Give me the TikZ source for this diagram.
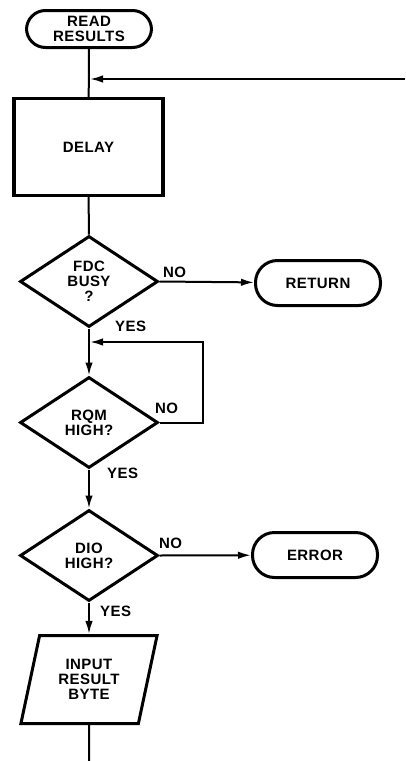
\documentclass[tikz,border=0pt]{standalone}
\usepackage{fontspec}
\setmainfont{Liberation Sans}[LetterSpace=3]
\usetikzlibrary{shapes.geometric}
\usetikzlibrary{arrows.meta}

\tikzset{
 every node/.style={font=\bfseries\fontsize{15}{15}\selectfont, align=center},
 term/.style={draw, line width=3pt, rounded corners=19pt, minimum width=125pt, minimum height=37pt, inner sep=0},
 proc/.style={draw, line width=3.2pt, minimum width=149pt, minimum height=97pt, inner sep=0},
 decide/.style={draw, diamond, line width=3pt, minimum width=138pt, minimum height=91pt, inner sep=0, aspect=1.5},
 inout/.style={draw, trapezium, trapezium left angle=74, trapezium right angle=106, trapezium stretches=true, line width=3pt, minimum width=137pt, minimum height=88pt, inner sep=0},
 lbl/.style={inner sep=0, anchor=base west},
 flow/.style={line width=2pt},
}

\begin{document}
\begin{tikzpicture} [x=1pt, y=-1pt, >={Latex[length=13pt,width=7.5pt]}]
\useasboundingbox (0,0) rectangle (406,761);
% main column
\node[term] (read) at (89,29) {READ\\RESULTS};
\node[proc] (delay) at (88.5,147) {DELAY};
\node[decide] (fdc) at (89,281.5) {FDC\\BUSY\\?};
\node[decide] (rqm) at (89,422.5) {RQM\\HIGH?};
\node[decide] (dio) at (89,555.5) {DIO\\HIGH?};
\node[inout] (inp) at (89,679.5) {INPUT\\RESULT\\BYTE};
% exits
\node[term, minimum height=45pt, rounded corners=22pt] (ret) at (318,283) {RETURN};
\node[term, minimum height=45pt, rounded corners=22pt] (err) at (315,555) {ERROR};
% loose ends
\coordinate (feed) at (405,79);
\coordinate (join) at (90,79);
\coordinate (loop) at (90,342);
\coordinate (out) at (89,761);

\draw[flow] (read) -- (delay);
\draw[flow,->] (feed) -- (join);
\draw[flow] (delay) -- (fdc);
\draw[flow,->] (fdc.east) -- (ret);
\draw[flow,->] (fdc) -- (rqm);
\draw[flow,->] (rqm.east) -- ++(43,0) |- (loop);
\draw[flow,->] (rqm) -- (dio);
\draw[flow,->] (dio.east) -- (err);
\draw[flow,->] (dio) -- (inp);
\draw[flow] (inp) -- (out);

\node[lbl] (no1) at (163,277) {NO};
\node[lbl] (yes1) at (115,331) {YES};
\node[lbl] (no2) at (155,413) {NO};
\node[lbl] (yes2) at (107,478) {YES};
\node[lbl] (no3) at (159,548) {NO};
\node[lbl] (yes3) at (100,616) {YES};
\end{tikzpicture}
\end{document}
